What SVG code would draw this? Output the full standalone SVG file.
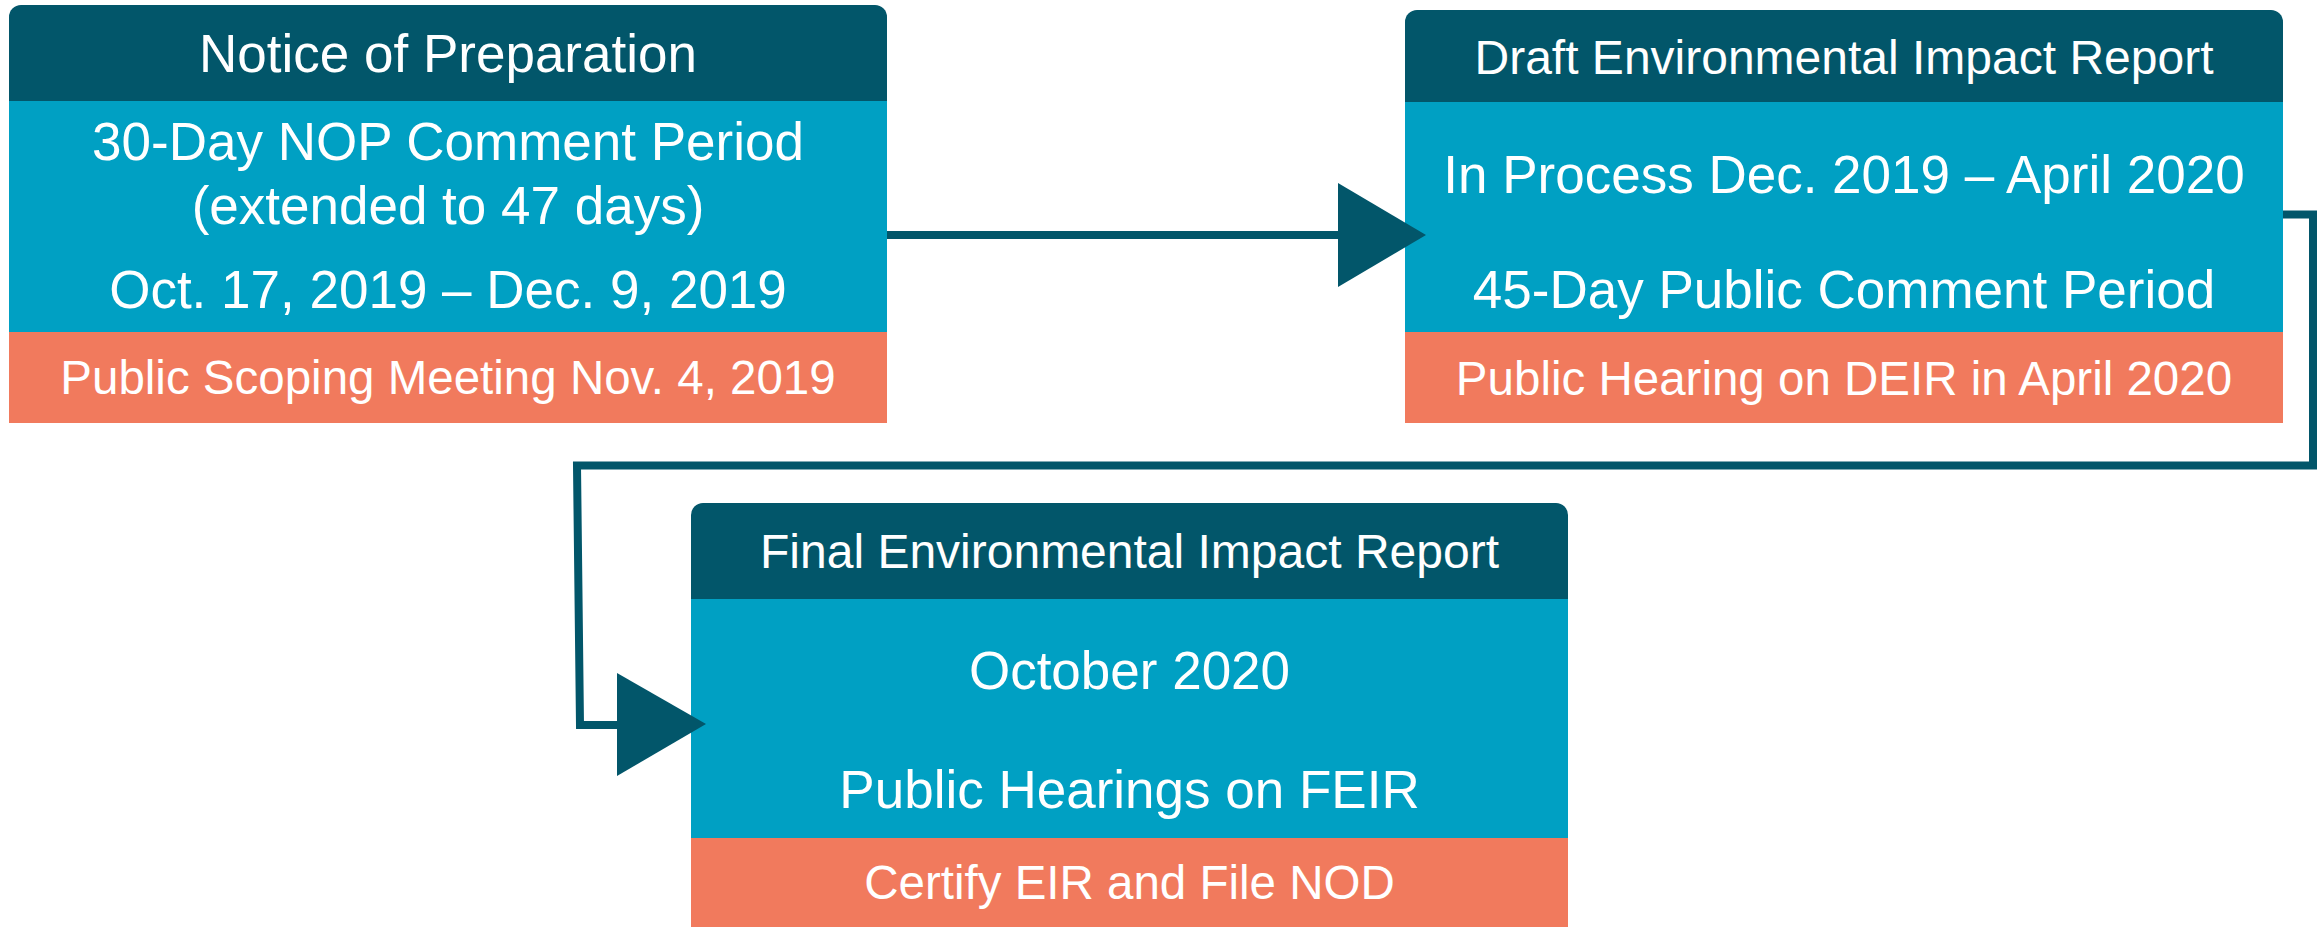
<svg xmlns="http://www.w3.org/2000/svg" width="2324" height="927" viewBox="0 0 2324 927">
<style>
.hd{fill:#02566A}
.bl{fill:#00A0C3}
.or{fill:#F17A5D}
text{font-family:"Liberation Sans",Arial,sans-serif;fill:#FFFFFF;text-anchor:middle}
.t1{font-size:53px}
.t2{font-size:48px}
.t3{font-size:47.5px}
.ln{fill:none;stroke:#02566A;stroke-width:8;stroke-linejoin:miter}
.ah{fill:#02566A}
</style>
<rect width="2324" height="927" fill="#FFFFFF"/>
<g id="nop">
<path class="hd" d="M9,101 V17 A12,12 0 0 1 21,5 H875 A12,12 0 0 1 887,17 V101 Z"/>
<rect class="bl" x="9" y="101" width="878" height="231"/>
<rect class="or" x="9" y="332" width="878" height="91"/>
<text class="t1" x="448" y="72">Notice of Preparation</text>
<text class="t1" x="448" y="160">30-Day NOP Comment Period</text>
<text class="t1" x="448" y="224">(extended to 47 days)</text>
<text class="t1" x="448" y="308">Oct. 17, 2019 – Dec. 9, 2019</text>
<text class="t3" x="448" y="394">Public Scoping Meeting Nov. 4, 2019</text>
</g>
<g id="deir">
<path class="hd" d="M1405,102 V22 A12,12 0 0 1 1417,10 H2271 A12,12 0 0 1 2283,22 V102 Z"/>
<rect class="bl" x="1405" y="102" width="878" height="230"/>
<rect class="or" x="1405" y="332" width="878" height="91"/>
<text class="t2" x="1844" y="74">Draft Environmental Impact Report</text>
<text class="t1" x="1844" y="193">In Process Dec. 2019 – April 2020</text>
<text class="t1" x="1844" y="308">45-Day Public Comment Period</text>
<text class="t3" x="1844" y="395">Public Hearing on DEIR in April 2020</text>
</g>
<g id="feir">
<path class="hd" d="M691,599 V515 A12,12 0 0 1 703,503 H1556 A12,12 0 0 1 1568,515 V599 Z"/>
<rect class="bl" x="691" y="599" width="877" height="239"/>
<rect class="or" x="691" y="838" width="877" height="89"/>
<text class="t2" x="1129.5" y="568">Final Environmental Impact Report</text>
<text class="t1" x="1129.5" y="689">October 2020</text>
<text class="t1" x="1129.5" y="808">Public Hearings on FEIR</text>
<text class="t3" x="1129.5" y="899">Certify EIR and File NOD</text>
</g>
<g id="connectors">
<path class="ln" d="M887,235 H1340"/>
<polygon class="ah" points="1338,183 1426,235 1338,287"/>
<path class="ln" d="M2283,214.5 H2313 V465.5 H577 L580,725 H620"/>
<polygon class="ah" points="617,673 706,724 617,776"/>
</g>
</svg>
